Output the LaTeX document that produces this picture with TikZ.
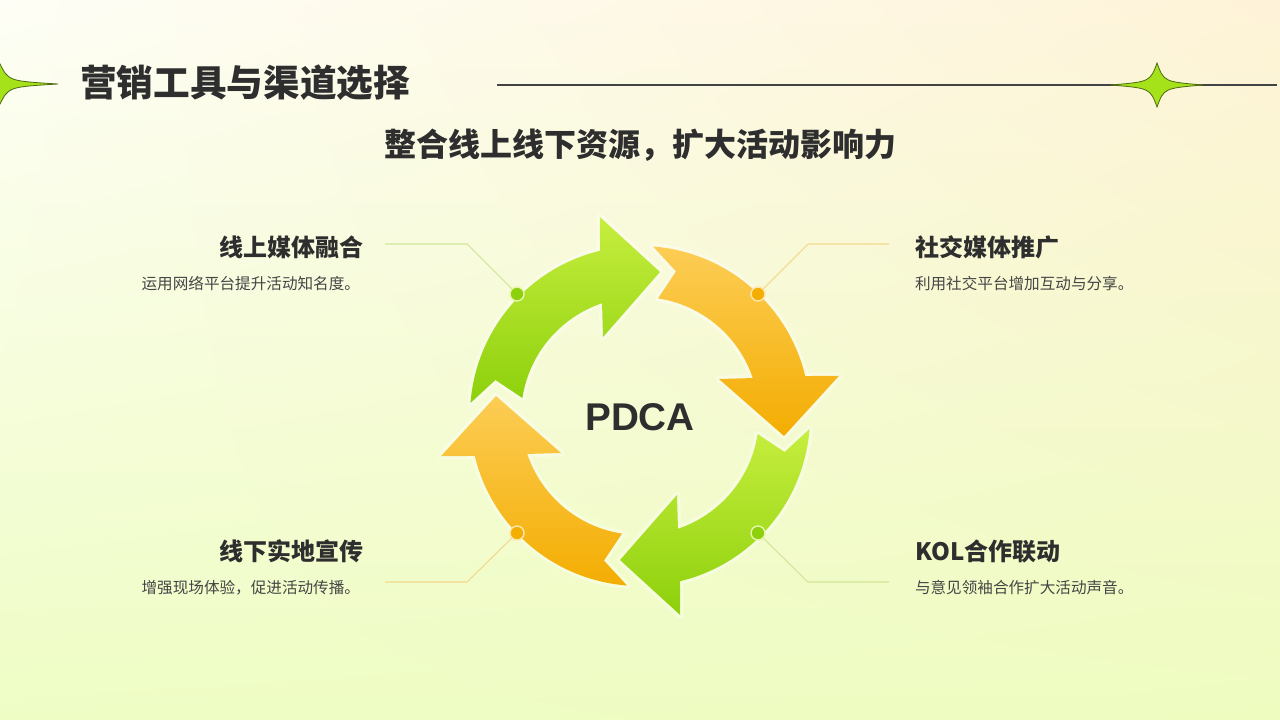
\documentclass[tikz,border=0pt]{standalone}
\usepackage{fontspec}
\usetikzlibrary{shadings}
\setmainfont{Noto Sans CJK SC}
\newfontfamily\pdcafont{Liberation Sans}

\definecolor{bgUL}{HTML}{FEFEF6}
\definecolor{bgUR}{HTML}{FEF3D8}
\definecolor{bgLL}{HTML}{EEFDC4}
\definecolor{bgLR}{HTML}{EEFCC0}
\definecolor{greenL}{HTML}{C6EE3E}
\definecolor{greenD}{HTML}{8DD00C}
\definecolor{orangeL}{HTML}{FCCD55}
\definecolor{orangeD}{HTML}{F4AD02}
\definecolor{txtdark}{HTML}{2E2E2E}
\definecolor{txtgray}{HTML}{454545}
\definecolor{starfill}{HTML}{A6E21A}
\definecolor{stardraw}{HTML}{4E6A12}
\definecolor{linkG}{HTML}{D3E79A}
\definecolor{linkO}{HTML}{F2D98C}

\newcommand\sparkleStar[4]{%
  \filldraw[fill=starfill, draw=stardraw, line width=0.6pt]
    (#1+#3,#2) .. controls (#1+0.15*#3,#2-0.15*#4) .. (#1,#2-#4)
    .. controls (#1-0.15*#3,#2-0.15*#4) .. (#1-#3,#2)
    .. controls (#1-0.15*#3,#2+0.15*#4) .. (#1,#2+#4)
    .. controls (#1+0.15*#3,#2+0.15*#4) .. (#1+#3,#2) -- cycle;}

\begin{document}
\begin{tikzpicture}[
  x = 0.75pt, y = -0.75pt,
  every node/.style = {inner sep = 0, outer sep = 0},
  title/.style = {font = \fontsize{27.5}{30}\selectfont\bfseries, text = txtdark},
  subtitle/.style = {font = \fontsize{24}{28}\selectfont\bfseries, text = txtdark},
  heading/.style = {font = \fontsize{18}{21}\selectfont\bfseries, text = txtdark},
  desc/.style = {font = \fontsize{11.7}{14}\selectfont, text = txtgray},
  ringdot/.style = {circle, minimum size = 10.5pt, line width = 1.1pt},
  link/.style = {line width = 0.8pt},
  ]
  \useasboundingbox (0,0) rectangle (1280,720);
  \shade[upper left = bgUL, upper right = bgUR, lower left = bgLL, lower right = bgLR]
    (0,0) rectangle (1280,720);

  \begin{scope}
    \clip (0,0) rectangle (1280,720);
    \sparkleStar{0}{84}{58}{20}
  \end{scope}
  \coordinate (rule west) at (497,85);
  \coordinate (rule east) at (1277,85);
  \draw[line width = 1.2pt, txtdark!90] (rule west) -- (rule east);
  \sparkleStar{1157}{85}{46}{22}

  \node[title, anchor = west] (title) at (80,83) {营销工具与渠道选择};
  \node[subtitle] (subtitle) at (640,145) {整合线上线下资源，扩大活动影响力};

  \begin{scope}[shift = {(640,416)}]
    \foreach \o/\cl/\cd in {0/greenL/greenD, 90/orangeL/orangeD,
                            180/greenL/greenD, 270/orangeL/orangeD} {
      \shade[top color = \cl, bottom color = \cd,
             preaction = {draw = white, draw opacity = .35, line width = 5pt, line join = round}]
        ({\o-175.6}:170) arc[start angle = {\o-175.6}, end angle = {\o-103.6}, radius = 170]
        -- ({\o-101.4}:203) -- ({\o-82.1}:145.4) -- ({\o-115.1}:87.2) -- ({\o-108.6}:119)
        arc[start angle = {\o-108.6}, end angle = {\o-171.3}, radius = 119]
        -- ({\o-166}:149) -- cycle;
    }
  \end{scope}

  \node[font = \pdcafont\fontsize{29}{32}\selectfont\bfseries, text = txtdark] (pdca) at (640,417) {PDCA};

  \coordinate (k1) at (467,244);  \coordinate (k1e) at (385,244);
  \coordinate (k2) at (808,244);  \coordinate (k2e) at (889,244);
  \coordinate (k3) at (467,582);  \coordinate (k3e) at (385,582);
  \coordinate (k4) at (808,582);  \coordinate (k4e) at (889,582);

  \node[ringdot, fill = greenD, draw = white!55!greenL] (d1) at (517,294) {};
  \node[ringdot, fill = orangeD, draw = white!50!orangeL] (d2) at (758,294) {};
  \node[ringdot, fill = orangeD, draw = white!50!orangeL] (d3) at (517,533) {};
  \node[ringdot, fill = greenD, draw = white!55!greenL] (d4) at (758,533) {};

  \draw[link, linkG] (d1) -- (k1) -- (k1e);
  \draw[link, linkO] (d2) -- (k2) -- (k2e);
  \draw[link, linkO] (d3) -- (k3) -- (k3e);
  \draw[link, linkG] (d4) -- (k4) -- (k4e);

  \node[heading, anchor = east] (h1) at (363,247) {线上媒体融合};
  \node[desc, anchor = east] (t1) at (360,284) {运用网络平台提升活动知名度。};
  \node[heading, anchor = west] (h2) at (915,247) {社交媒体推广};
  \node[desc, anchor = west] (t2) at (915,284) {利用社交平台增加互动与分享。};
  \node[heading, anchor = east] (h3) at (363,551) {线下实地宣传};
  \node[desc, anchor = east] (t3) at (360,588) {增强现场体验，促进活动传播。};
  \node[heading, anchor = west] (h4) at (915,551) {KOL合作联动};
  \node[desc, anchor = west] (t4) at (915,588) {与意见领袖合作扩大活动声音。};
\end{tikzpicture}
\end{document}
